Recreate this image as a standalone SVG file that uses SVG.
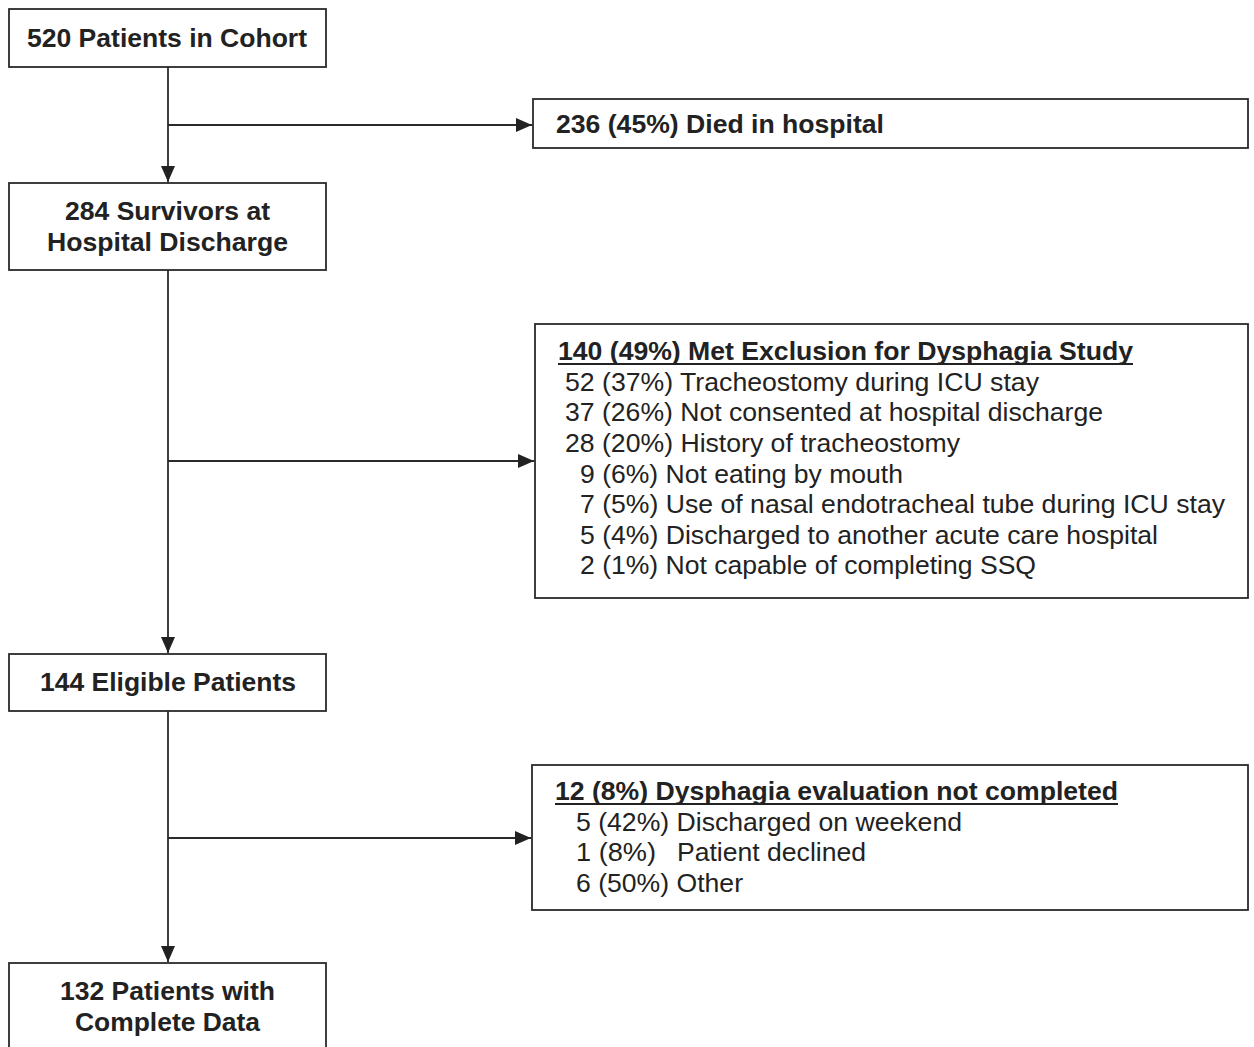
<svg xmlns="http://www.w3.org/2000/svg" width="1254" height="1047" viewBox="0 0 1254 1047">
<style>
.box{fill:#fff;stroke:#2a2a2a;stroke-width:1.8}
.ln{fill:none;stroke:#2a2a2a;stroke-width:1.8}
.b{font-family:"Liberation Sans",Arial,sans-serif;font-weight:bold;font-size:25px;fill:#222}
.r{font-family:"Liberation Sans",Arial,sans-serif;font-size:26px;fill:#222}
.u{stroke:#222;stroke-width:1.8}
</style>
<defs>
<marker id="ah" viewBox="0 0 16 14" refX="16" refY="7" markerWidth="16" markerHeight="14" markerUnits="userSpaceOnUse" orient="auto">
<path d="M0,0 L16,7 L0,14 Z" fill="#222"/>
</marker>
</defs>
<g id="connectors">
<line class="ln" x1="168" y1="67" x2="168" y2="182" marker-end="url(#ah)"/>
<line class="ln" x1="168" y1="125" x2="532" y2="125" marker-end="url(#ah)"/>
<line class="ln" x1="168" y1="270" x2="168" y2="653" marker-end="url(#ah)"/>
<line class="ln" x1="168" y1="461" x2="534" y2="461" marker-end="url(#ah)"/>
<line class="ln" x1="168" y1="711" x2="168" y2="962" marker-end="url(#ah)"/>
<line class="ln" x1="168" y1="838" x2="531" y2="838" marker-end="url(#ah)"/>
</g>
<g id="n1">
<rect class="box" x="9" y="9" width="317" height="58"/>
<text class="b" x="27" y="47" textLength="280" lengthAdjust="spacingAndGlyphs">520 Patients in Cohort</text>
</g>
<g id="n2">
<rect class="box" x="533" y="99" width="715" height="49"/>
<text class="b" x="556" y="133" textLength="328" lengthAdjust="spacingAndGlyphs">236 (45%) Died in hospital</text>
</g>
<g id="n3">
<rect class="box" x="9" y="183" width="317" height="87"/>
<text class="b" x="65" y="220" textLength="205" lengthAdjust="spacingAndGlyphs">284 Survivors at</text>
<text class="b" x="47" y="251" textLength="241" lengthAdjust="spacingAndGlyphs">Hospital Discharge</text>
</g>
<g id="n4">
<rect class="box" x="535" y="324" width="713" height="274"/>
<text class="b" x="558" y="360" textLength="575" lengthAdjust="spacingAndGlyphs">140 (49%) Met Exclusion for Dysphagia Study</text>
<line class="u" x1="558" y1="364" x2="1133" y2="364"/>
<text class="r" x="565" y="391" textLength="474" lengthAdjust="spacingAndGlyphs">52 (37%) Tracheostomy during ICU stay</text>
<text class="r" x="565" y="421" textLength="538" lengthAdjust="spacingAndGlyphs">37 (26%) Not consented at hospital discharge</text>
<text class="r" x="565" y="452" textLength="395" lengthAdjust="spacingAndGlyphs">28 (20%) History of tracheostomy</text>
<text class="r" x="580" y="483" textLength="323" lengthAdjust="spacingAndGlyphs">9 (6%) Not eating by mouth</text>
<text class="r" x="580" y="513" textLength="645" lengthAdjust="spacingAndGlyphs">7 (5%) Use of nasal endotracheal tube during ICU stay</text>
<text class="r" x="580" y="544" textLength="578" lengthAdjust="spacingAndGlyphs">5 (4%) Discharged to another acute care hospital</text>
<text class="r" x="580" y="574" textLength="456" lengthAdjust="spacingAndGlyphs">2 (1%) Not capable of completing SSQ</text>
</g>
<g id="n5">
<rect class="box" x="9" y="654" width="317" height="57"/>
<text class="b" x="40" y="691" textLength="256" lengthAdjust="spacingAndGlyphs">144 Eligible Patients</text>
</g>
<g id="n6">
<rect class="box" x="532" y="765" width="716" height="145"/>
<text class="b" x="555" y="800" textLength="563" lengthAdjust="spacingAndGlyphs">12 (8%) Dysphagia evaluation not completed</text>
<line class="u" x1="555" y1="804" x2="1118" y2="804"/>
<text class="r" x="576" y="831" textLength="386" lengthAdjust="spacingAndGlyphs">5 (42%) Discharged on weekend</text>
<text class="r" x="576" y="861" textLength="80" lengthAdjust="spacingAndGlyphs">1 (8%)</text>
<text class="r" x="677" y="861" textLength="189" lengthAdjust="spacingAndGlyphs">Patient declined</text>
<text class="r" x="576" y="892" textLength="167" lengthAdjust="spacingAndGlyphs">6 (50%) Other</text>
</g>
<g id="n7">
<rect class="box" x="9" y="963" width="317" height="100"/>
<text class="b" x="60" y="1000" textLength="215" lengthAdjust="spacingAndGlyphs">132 Patients with</text>
<text class="b" x="75" y="1031" textLength="185" lengthAdjust="spacingAndGlyphs">Complete Data</text>
</g>
</svg>
